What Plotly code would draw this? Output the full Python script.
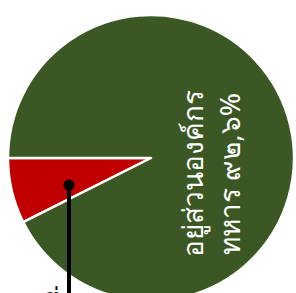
import plotly.graph_objects as go

# data
labels = ["นอกองค์กรทหาร", "อยู่ส่วนองค์กรทหาร"]
values = [7.4, 92.6]
colors = ["#c00000", "#3a5724"]
main_line1 = "อยู่ส่วนองค์กร"
main_line2 = "ทหาร ๙๒,๖%"
minor_label = "ซึ่ง ๗,๔%"

W, H = 296, 301
red_span = 360 * values[0] / sum(values)

fig = go.Figure(go.Pie(
    labels=labels, values=values, sort=False, direction="clockwise",
    rotation=-90 - red_span, textinfo="none", hoverinfo="skip",
    marker=dict(colors=colors, line=dict(color="white", width=2.5)),
    domain=dict(x=[8 / W, 294 / W], y=[0, 286 / H]),
    showlegend=False,
))

for txt, xc in ((main_line1, 192), (main_line2, 229)):
    fig.add_annotation(
        x=xc / W, y=(H - 174) / H, xref="paper", yref="paper",
        xanchor="center", yanchor="middle",
        text=txt, textangle=-90, showarrow=False,
        font=dict(color="white", size=28, family="Noto Sans, sans-serif"),
    )

# callout from red slice
fig.add_shape(type="line", xref="paper", yref="paper",
              x0=69 / W, x1=69 / W, y0=(H - 185) / H, y1=(H - 300) / H,
              line=dict(color="black", width=4))
fig.add_shape(type="circle", xref="paper", yref="paper",
              x0=63.5 / W, x1=74.5 / W, y0=(H - 179.5) / H, y1=(H - 190.5) / H,
              fillcolor="black", line=dict(color="black", width=0))
fig.add_annotation(
    x=38 / W, y=(H - 283) / H, xref="paper", yref="paper", yanchor="top",
    xanchor="left", text=minor_label, showarrow=False,
    font=dict(color="black", size=28, family="Noto Sans, sans-serif"),
)

fig.update_layout(width=W, height=H, margin=dict(l=0, r=0, t=0, b=0),
                  paper_bgcolor="white", plot_bgcolor="white")

fig.write_html("out.html", config={"displayModeBar": False},
               post_script="document.body.style.margin='0';document.body.style.overflow='hidden';document.documentElement.style.overflow='hidden';")
